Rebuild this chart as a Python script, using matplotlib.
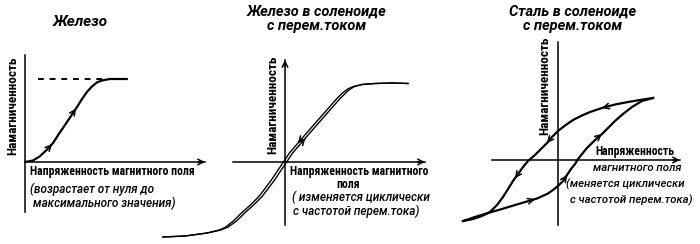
import numpy as np
import matplotlib
matplotlib.use("Agg")
import matplotlib.pyplot as plt

# ---------------- data ----------------
# Panel 1: iron, field rising from zero to maximum (H, M normalised to saturation)
iron_H = [0.0, 0.078, 0.147, 0.216, 0.275, 0.333, 0.392, 0.451, 0.510, 0.559,
          0.608, 0.657, 0.706, 0.765, 0.833, 1.0]
iron_M = [0.0, 0.018, 0.070, 0.150, 0.229, 0.340, 0.446, 0.554, 0.663, 0.759,
          0.845, 0.910, 0.960, 0.985, 1.0, 1.0]
iron_sat_H = [0.13, 1.0]
iron_sat_M = [1.0, 1.0]
iron_arrow_H = [0.265, 0.50]

# Panel 2: iron in AC solenoid (narrow loop: centre curve + half-width of the loop)
sol_H = [-0.992, -0.813, -0.634, -0.528, -0.472, -0.407, -0.341, -0.268, -0.203,
         -0.146, -0.098, -0.049, 0.0, 0.049, 0.098, 0.154, 0.203, 0.260, 0.317,
         0.374, 0.431, 0.480, 0.520, 0.561, 0.626, 0.732, 0.870, 1.0]
sol_M = [-0.949, -0.937, -0.899, -0.861, -0.823, -0.747, -0.646, -0.544, -0.443,
         -0.329, -0.228, -0.114, 0.0, 0.114, 0.203, 0.304, 0.392, 0.494, 0.595,
         0.696, 0.797, 0.873, 0.924, 0.956, 0.981, 0.994, 1.0, 0.994]
sol_gap = [0.0, 0.0, 0.0, 0.005, 0.010, 0.013, 0.013, 0.013, 0.013, 0.013, 0.013,
           0.013, 0.013, 0.013, 0.013, 0.013, 0.013, 0.013, 0.013, 0.013, 0.013,
           0.013, 0.010, 0.005, 0.0, 0.0, 0.0, 0.0]
sol_arrow_down_H = 0.105
sol_arrow_up_H = 0.165

# Panel 3: steel in AC solenoid (hysteresis loop)
steel_down_H = [1.0, 0.863, 0.737, 0.6, 0.463, 0.337, 0.253, 0.158, 0.074, 0.0,
                -0.063, -0.116, -0.179, -0.242, -0.316, -0.368, -0.421, -0.474,
                -0.526, -0.579, -0.642, -0.716, -0.8, -0.895, -1.0]
steel_down_M = [1.0, 0.968, 0.935, 0.895, 0.839, 0.774, 0.718, 0.645, 0.556, 0.468,
                0.371, 0.274, 0.177, 0.081, -0.016, -0.113, -0.226, -0.339,
                -0.468, -0.597, -0.726, -0.839, -0.903, -0.952, -0.984]
steel_up_H = [-1.0, -0.874, -0.737, -0.589, -0.453, -0.326, -0.221, -0.105, -0.053,
              0.0, 0.053, 0.095, 0.137, 0.179, 0.211, 0.253, 0.305, 0.358, 0.411,
              0.463, 0.526, 0.6, 0.684, 0.779, 0.884, 1.0]
steel_up_M = [-0.984, -0.919, -0.855, -0.790, -0.726, -0.669, -0.621, -0.540, -0.484,
              -0.419, -0.339, -0.242, -0.145, -0.065, 0.016, 0.097, 0.194, 0.274,
              0.355, 0.419, 0.516, 0.629, 0.742, 0.855, 0.952, 1.0]
steel_arrow_down_H = [0.463, -0.116, -0.453]
steel_arrow_up_H = [-0.242, 0.095, 0.463]

# ---------------- text ----------------
titles = ["Железо", "Железо в соленоиде\nс перем.током", "Сталь в соленоиде\nс перем.током"]
ylabel = "Намагниченность"

# ---------------- fonts ----------------
fams = ["Roboto Condensed", "Liberation Sans Narrow", "Roboto", "DejaVu Sans"]
label_font = dict(family=fams, weight="bold", stretch="condensed")
ital_font = dict(family=["Roboto", "DejaVu Sans"], style="italic", weight="medium")
title_font = dict(family=["Roboto", "DejaVu Sans"], style="italic", weight="bold")

W, H = 700, 244
fig = plt.figure(figsize=(W / 100, H / 100), dpi=100)
fig.patch.set_facecolor("white")

LW = 1.6
AX_LW = 1.1


def make_axes(x0, x1, ytop, ybot, ox, oy, ux, uy):
    ax = fig.add_axes([x0 / W, 1 - ybot / H, (x1 - x0) / W, (ybot - ytop) / H])
    ax.set_xlim((x0 - ox) / ux, (x1 - ox) / ux)
    ax.set_ylim((oy - ybot) / uy, (oy - ytop) / uy)
    ax.patch.set_alpha(0)
    for s in ("top", "right"):
        ax.spines[s].set_visible(False)
    ax.spines["left"].set_position(("data", 0))
    ax.spines["bottom"].set_position(("data", 0))
    for s in ("left", "bottom"):
        ax.spines[s].set_linewidth(AX_LW)
    ax.set_xticks([])
    ax.set_yticks([])
    return ax


def xarrow(ax):
    ax.annotate("", xy=(1.0, 0), xycoords=("axes fraction", "data"),
                xytext=(0.96, 0), textcoords=("axes fraction", "data"),
                arrowprops=dict(arrowstyle="->", lw=AX_LW, color="black",
                                mutation_scale=10, shrinkA=0, shrinkB=0))


def yarrow(ax):
    ax.annotate("", xy=(0, 1.0), xycoords=("data", "axes fraction"),
                xytext=(0, 0.96), textcoords=("data", "axes fraction"),
                arrowprops=dict(arrowstyle="->", lw=AX_LW, color="black",
                                mutation_scale=10, shrinkA=0, shrinkB=0))


def curve_arrow(ax, hx, hy, h, forward=True):
    hx = np.asarray(hx, float)
    hy = np.asarray(hy, float)
    order = np.argsort(hx)
    xs, ys = hx[order], hy[order]
    d = 0.03 if forward else -0.03
    y1 = np.interp(h, xs, ys)
    y0 = np.interp(h - d, xs, ys)
    ax.annotate("", xy=(h, y1), xytext=(h - d, y0),
                arrowprops=dict(arrowstyle="->", lw=1.1, color="black",
                                mutation_scale=10, shrinkA=0, shrinkB=0),
                annotation_clip=False)


def ftext(x, y, s, **kw):
    fig.text(x / W, 1 - y / H, s, color="black", **kw)


# ---- Panel 1 ----
ax1 = make_axes(25, 205, 55, 212, 25, 162, 102, 83)
xarrow(ax1)
ax1.plot(iron_H, iron_M, color="black", lw=LW, solid_capstyle="round", clip_on=False)
ax1.plot(iron_sat_H, iron_sat_M, color="black", lw=1.4, dashes=(3.0, 3.0), clip_on=False)
for h in iron_arrow_H:
    curve_arrow(ax1, iron_H, iron_M, h, True)

# ---- Panel 2 ----
ax2 = make_axes(233, 425, 60, 225, 285, 162, 123, 79)
xarrow(ax2)
yarrow(ax2)
sH = np.asarray(sol_H)
sG = np.asarray(sol_gap)
ax2.plot(sH - sG, sol_M, color="black", lw=1.0, clip_on=False)
ax2.plot(sH + sG, sol_M, color="black", lw=1.0, clip_on=False)
curve_arrow(ax2, sH - sG, sol_M, sol_arrow_down_H, False)
curve_arrow(ax2, sH + sG, sol_M, sol_arrow_up_H, True)

# ---- Panel 3 ----
ax3 = make_axes(492, 680, 42, 225, 558, 160, 95, 62)
xarrow(ax3)
ax3.plot(steel_down_H, steel_down_M, color="black", lw=LW, clip_on=False)
ax3.plot(steel_up_H, steel_up_M, color="black", lw=LW, clip_on=False)
for h in steel_arrow_down_H:
    curve_arrow(ax3, steel_down_H, steel_down_M, h, False)
for h in steel_arrow_up_H:
    curve_arrow(ax3, steel_up_H, steel_up_M, h, True)

# ---- texts ----
ftext(80, 22, titles[0], ha="center", va="center", fontsize=11, **title_font)
ftext(317, 19, titles[1], ha="center", va="center", fontsize=10.5,
      linespacing=1.05, **title_font)
ftext(573, 19, titles[2], ha="center", va="center", fontsize=10.5,
      linespacing=1.05, **title_font)

ftext(13, 106, ylabel, rotation=90, ha="center", va="center", fontsize=9.5, **label_font)
ftext(273, 105, ylabel, rotation=90, ha="center", va="center", fontsize=9.5, **label_font)
ftext(545, 86, ylabel, rotation=90, ha="center", va="center", fontsize=9.5, **label_font)

ftext(30, 172, "Напряженность магнитного поля", ha="left", va="center", fontsize=8.5, **label_font)
ftext(30, 189, "(возрастает от нуля до", ha="left", va="center", fontsize=8.5, **ital_font)
ftext(33, 203, "максимального значения)", ha="left", va="center", fontsize=8.5, **ital_font)

ftext(290, 171, "Напряженность магнитного", ha="left", va="center", fontsize=8.5, **label_font)
ftext(348, 184.5, "поля", ha="center", va="center", fontsize=8.5, **label_font)
ftext(292, 197, "( изменяется циклически", ha="left", va="center", fontsize=8.5, **ital_font)
ftext(293, 211, "с частотой перем.тока)", ha="left", va="center", fontsize=8.5, **ital_font)

ftext(595, 152, "Напряженность", ha="left", va="center", fontsize=8.5, **label_font)
ftext(593, 168, "магнитного поля", ha="left", va="center", fontsize=8.2, **ital_font)
ftext(566, 184, "(меняется циклически", ha="left", va="center", fontsize=8.2, **ital_font)
ftext(570, 200, "с частотой перем.тока)", ha="left", va="center", fontsize=8.2, **ital_font)

fig.savefig("out.png", dpi=100, facecolor="white")
